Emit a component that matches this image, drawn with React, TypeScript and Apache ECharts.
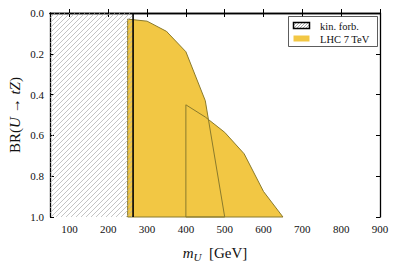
import React, { useEffect, useRef } from "react";
import * as echarts from "echarts";

// Region A (m_U in GeV, BR boundary)
const massA = [250, 300, 350, 400, 450, 500];
const brA = [0.03, 0.04, 0.09, 0.19, 0.43, 1.0];
// Region B
const massB = [400, 450, 500, 550, 600, 650];
const brB = [0.45, 0.51, 0.585, 0.69, 0.875, 1.0];
// kinematically forbidden range
const forbMin = 50;
const forbMax = 264;
const xTicks = [100, 200, 300, 400, 500, 600, 700, 800, 900];

const FILL = "#F2C744";
const EDGE = "#8A7A2C";
const SERIF = "'Liberation Serif', 'DejaVu Serif', serif";
const TXT = "#111";

function hatchLines(x0: number, y0: number, x1: number, y1: number, step: number, color: string, width: number, z?: number) {
  const out: any[] = [];
  for (let c = x0 + y0; c <= x1 + y1; c += step) {
    const xa = Math.max(x0, c - y1);
    const xb = Math.min(x1, c - y0);
    if (xb <= xa) continue;
    const el: any = {
      type: "line",
      shape: { x1: xa, y1: c - xa, x2: xb, y2: c - xb },
      style: { stroke: color, lineWidth: width },
      silent: true,
    };
    if (z !== undefined) el.z = z;
    out.push(el);
  }
  return out;
}

export default function App() {
  const ref = useRef<HTMLDivElement>(null);
  useEffect(() => {
    if (!ref.current) return;
    const chart = echarts.init(ref.current, null, { renderer: "svg" });
    const axisCommon = {
      type: "value",
      axisLine: { show: true, lineStyle: { color: "#000", width: 1.3 } },
      axisTick: { show: true, inside: true, length: 4, lineStyle: { color: "#000", width: 1 } },
      splitLine: { show: false },
    };
    const big = { fontFamily: SERIF, fontSize: 15, color: TXT };
    const option: any = {
      animation: false,
      grid: { left: 50, right: 18, top: 13, bottom: 47, outerBoundsMode: "none", containLabel: false },
      xAxis: [
        {
          ...axisCommon,
          position: "bottom",
          min: 50,
          max: 900,
          axisTick: { ...axisCommon.axisTick, customValues: xTicks },
          axisLabel: { customValues: xTicks, color: TXT, fontFamily: SERIF, fontSize: 11, margin: 6 },
          name: "{i|m}{s|U}{r|  [GeV]}",
          nameLocation: "middle",
          nameGap: 26,
          nameTextStyle: {
            ...big,
            rich: {
              r: { ...big },
              i: { ...big, fontStyle: "italic" },
              s: { fontFamily: SERIF, fontStyle: "italic", fontSize: 11, color: TXT, padding: [8, 0, 0, 0] },
            },
          },
        },
        {
          ...axisCommon,
          position: "top",
          min: 50,
          max: 900,
          axisTick: { ...axisCommon.axisTick, customValues: xTicks },
          axisLabel: { show: false },
        },
      ],
      yAxis: [
        {
          ...axisCommon,
          position: "left",
          inverse: true,
          min: 0,
          max: 1,
          interval: 0.2,
          axisLabel: {
            color: TXT,
            fontFamily: SERIF,
            fontSize: 11,
            margin: 6,
            formatter: (v: number) => v.toFixed(1),
          },
          name: "{r|BR(}{i|U}{r| → }{i|tZ}{r|)}",
          nameLocation: "middle",
          nameRotate: 90,
          nameMoveOverlap: false,
          nameGap: 28,
          nameTextStyle: {
            ...big,
            rich: {
              r: { ...big },
              i: { ...big, fontStyle: "italic" },
            },
          },
        },
        {
          ...axisCommon,
          position: "right",
          inverse: true,
          min: 0,
          max: 1,
          interval: 0.2,
          axisLabel: { show: false },
        },
      ],
      series: [
        {
          type: "custom",
          xAxisIndex: 0,
          yAxisIndex: 0,
          z: 2,
          data: [0],
          renderItem: (params: any, api: any) => {
            const polyA: number[][] = [];
            polyA.push(api.coord([massA[0], 1]));
            massA.forEach((m, i) => polyA.push(api.coord([m, brA[i]])));
            const polyB: number[][] = [];
            polyB.push(api.coord([massB[0], 1]));
            massB.forEach((m, i) => polyB.push(api.coord([m, brB[i]])));
            const closedA = polyA.concat([polyA[0]]);
            const closedB = polyB.concat([polyB[0]]);
            return {
              type: "group",
              children: [
                { type: "polygon", shape: { points: polyA }, style: { fill: FILL, stroke: "none" } },
                { type: "polygon", shape: { points: polyB }, style: { fill: FILL, stroke: "none" } },
                { type: "polyline", shape: { points: closedA }, style: { fill: "none", stroke: EDGE, lineWidth: 1 } },
                { type: "polyline", shape: { points: closedB }, style: { fill: "none", stroke: EDGE, lineWidth: 1 } },
              ],
            };
          },
        },
        {
          type: "custom",
          xAxisIndex: 0,
          yAxisIndex: 0,
          z: 3,
          data: [0],
          renderItem: (params: any, api: any) => {
            const p0 = api.coord([forbMin, 0]);
            const p1 = api.coord([forbMax, 1]);
            const lines = hatchLines(p0[0], p0[1], p1[0], p1[1], 5, "#ABABAB", 0.7);
            return {
              type: "group",
              children: [
                ...lines,
                {
                  type: "line",
                  shape: { x1: p1[0], y1: p0[1], x2: p1[0], y2: p1[1] },
                  style: { stroke: "#000", lineWidth: 1.6 },
                },
              ],
            };
          },
        },
      ],
      graphic: [
        {
          type: "rect",
          shape: { x: 288.5, y: 16.5, width: 89, height: 30 },
          style: { fill: "#fff", stroke: "#333", lineWidth: 0.8 },
          z: 10,
        },
        ...hatchLines(293.5, 22.5, 309.5, 28.5, 3, "#888", 0.7, 11),
        {
          type: "rect",
          shape: { x: 293.5, y: 22.5, width: 16, height: 6 },
          style: { fill: "none", stroke: "#000", lineWidth: 1.5 },
          z: 12,
        },
        {
          type: "rect",
          shape: { x: 293.5, y: 35.5, width: 16, height: 6 },
          style: { fill: FILL, stroke: "none" },
          z: 12,
        },
        {
          type: "text",
          x: 320,
          y: 26,
          z: 12,
          style: { text: "kin. forb.", fontFamily: SERIF, fontSize: 10.5, fill: TXT, verticalAlign: "middle" },
        },
        {
          type: "text",
          x: 320,
          y: 39,
          z: 12,
          style: { text: "LHC 7 TeV", fontFamily: SERIF, fontSize: 10.5, fill: TXT, verticalAlign: "middle" },
        },
      ],
    };
    chart.setOption(option);
    return () => chart.dispose();
  }, []);
  return (
    <div
      ref={ref}
      style={{ position: "fixed", left: 0, top: 0, width: 398, height: 264, background: "#fff" }}
    />
  );
}
